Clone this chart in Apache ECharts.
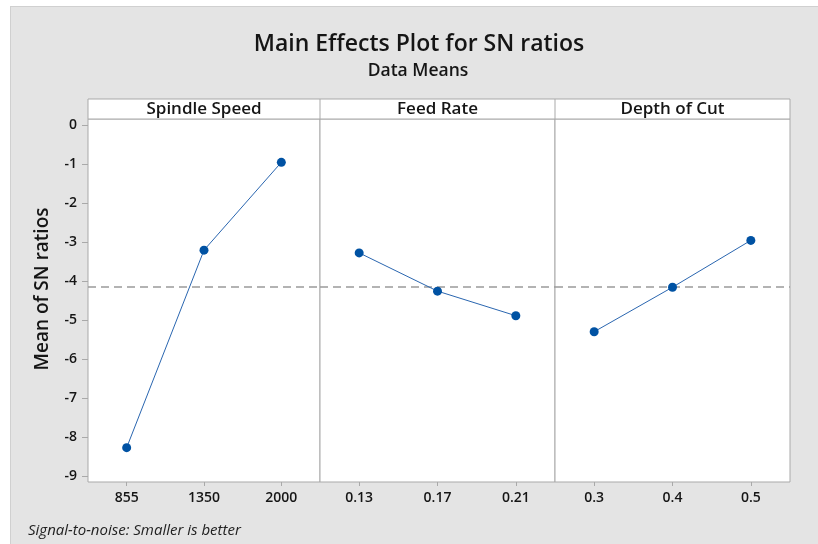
<!DOCTYPE html>
<html><head><meta charset="utf-8">
<script src="https://cdn.jsdelivr.net/npm/echarts@6/dist/echarts.min.js"></script>
<style>html,body{margin:0;padding:0;background:#fff;overflow:hidden}#c{width:818px;height:544px}</style>
</head><body><div id="c"></div>
<script>
// ---- data ----
const factorNames = ['Spindle Speed', 'Feed Rate', 'Depth of Cut'];
const spindleLevels = ['855', '1350', '2000'];
const spindleMeans = [-8.27, -3.21, -0.96];
const feedLevels = ['0.13', '0.17', '0.21'];
const feedMeans = [-3.28, -4.26, -4.89];
const depthLevels = ['0.3', '0.4', '0.5'];
const depthMeans = [-5.30, -4.16, -2.96];
const yTickValues = [-9, -8, -7, -6, -5, -4, -3, -2, -1, 0];
const grandMean = -4.16;
const titleText = 'Main Effects Plot for SN ratios';
const subtitleText = 'Data Means';
const yAxisTitle = 'Mean of SN ratios';
const footnote = 'Signal-to-noise: Smaller is better';

// ---- layout ----
const FONT = '"Open Sans", "Noto Sans", sans-serif';
const panels = [
  { left: 88, width: 232, levels: spindleLevels, values: spindleMeans },
  { left: 320, width: 235, levels: feedLevels, values: feedMeans },
  { left: 555, width: 235, levels: depthLevels, values: depthMeans }
];
const plotTop = 119, plotH = 363, stripTop = 99;
const frameColor = '#a9a9a9';
const lineBlue = '#2a66b0';
const dotBlue = '#0052a3';
const textColor = '#151515';

const grids = [], xAxes = [], yAxes = [], series = [];
panels.forEach((p, i) => {
  grids.push({ left: p.left, width: p.width, top: plotTop, height: plotH,
    show: true, backgroundColor: '#ffffff', borderColor: frameColor, borderWidth: 1 });
  xAxes.push({ type: 'category', gridIndex: i, data: p.levels, boundaryGap: true,
    position: 'bottom',
    axisLine: { show: false, onZero: false },
    axisTick: { show: true, alignWithLabel: true, length: 4, lineStyle: { color: frameColor } },
    axisLabel: { color: textColor, fontSize: 14, fontFamily: FONT, fontWeight: 600, margin: 9 },
    splitLine: { show: false } });
  yAxes.push({ type: 'value', gridIndex: i, min: -9.15, max: 0.15,
    axisLine: { show: false },
    axisTick: { show: i === 0, length: 6, customValues: yTickValues, lineStyle: { color: frameColor } },
    axisLabel: { show: i === 0, customValues: yTickValues, color: textColor, fontSize: 14,
      fontFamily: FONT, fontWeight: 600, margin: 11 },
    splitLine: { show: false } });
  series.push({ type: 'line', xAxisIndex: i, yAxisIndex: i, data: p.values,
    symbol: 'circle', symbolSize: 9, showSymbol: true,
    lineStyle: { color: lineBlue, width: 1 },
    itemStyle: { color: dotBlue },
    emphasis: { disabled: true },
    markLine: { silent: true, symbol: 'none', label: { show: false },
      lineStyle: { color: '#9a9a9a', type: [8, 5], width: 1.5 },
      data: [{ yAxis: grandMean }] },
    z: 5 });
});

const graphics = [
  { type: 'rect', shape: { x: 10, y: 6, width: 808, height: 538 },
    style: { fill: '#e4e4e4' }, z: -10 },
  { type: 'line', shape: { x1: 10.5, y1: 6, x2: 10.5, y2: 544 },
    style: { stroke: '#d0d0d0', lineWidth: 1 }, z: -9 },
  { type: 'line', shape: { x1: 10, y1: 6.5, x2: 818, y2: 6.5 },
    style: { stroke: '#d0d0d0', lineWidth: 1 }, z: -9 },
  { type: 'rect', shape: { x: 88, y: stripTop, width: 702, height: plotTop - stripTop },
    style: { fill: '#ffffff', stroke: frameColor, lineWidth: 1 }, z: 1 },
  { type: 'line', shape: { x1: 320, y1: stripTop, x2: 320, y2: plotTop },
    style: { stroke: frameColor, lineWidth: 1 }, z: 2 },
  { type: 'line', shape: { x1: 555, y1: stripTop, x2: 555, y2: plotTop },
    style: { stroke: frameColor, lineWidth: 1 }, z: 2 },
  { type: 'text', x: 419, y: 44, z: 3,
    style: { text: titleText, textAlign: 'center', textVerticalAlign: 'middle',
      font: '600 23px ' + FONT, fill: textColor } },
  { type: 'text', x: 418, y: 71, z: 3,
    style: { text: subtitleText, textAlign: 'center', textVerticalAlign: 'middle',
      font: '600 17.5px ' + FONT, fill: textColor } },
  { type: 'text', x: 43, y: 289, rotation: Math.PI / 2, z: 3,
    style: { text: yAxisTitle, textAlign: 'center', textVerticalAlign: 'middle',
      font: '600 19px ' + FONT, fill: textColor } },
  { type: 'text', x: 28, y: 531, z: 3,
    style: { text: footnote, textAlign: 'left', textVerticalAlign: 'middle',
      font: 'italic 15px ' + FONT, fill: '#222' } }
];
panels.forEach((p, i) => {
  graphics.push({ type: 'text', x: p.left + p.width / 2, y: 109, z: 3,
    style: { text: factorNames[i], textAlign: 'center', textVerticalAlign: 'middle',
      font: '600 17px ' + FONT, fill: textColor } });
});

const chart = echarts.init(document.getElementById('c'), null, { renderer: 'canvas' });
chart.setOption({
  backgroundColor: '#ffffff',
  animation: false,
  grid: grids, xAxis: xAxes, yAxis: yAxes, series: series,
  graphic: graphics
});
</script></body></html>
